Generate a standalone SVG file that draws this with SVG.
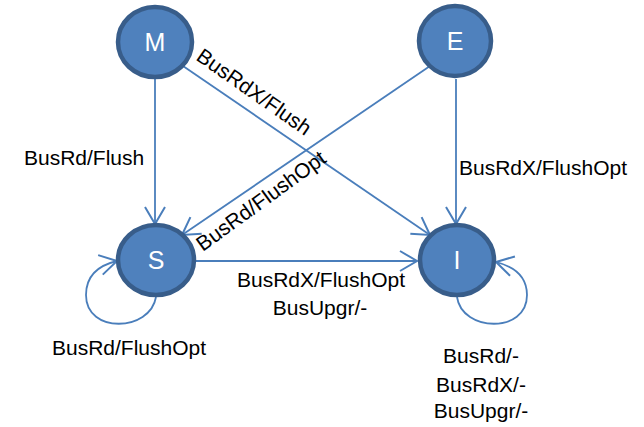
<svg xmlns="http://www.w3.org/2000/svg" width="644" height="427" viewBox="0 0 644 427">
  <style>
    .state circle, .state ellipse { fill: #4F81BD; stroke: #385D8A; stroke-width: 4.5; }
    .state text { font-family: "Liberation Sans", Arial, sans-serif; font-size: 25px; fill: #FFFFFF; text-anchor: middle; }
    .edge { fill: none; stroke: #4A7EBB; stroke-width: 1.8; marker-end: url(#arrow); }
    .lbl { font-family: "Liberation Sans", Arial, sans-serif; font-size: 21px; fill: #000000; }
    .mid { text-anchor: middle; }
  </style>
  <defs>
    <marker id="arrow" markerUnits="userSpaceOnUse" viewBox="-20 -13 22 26" refX="0" refY="0" markerWidth="22" markerHeight="26" orient="auto" overflow="visible">
      <path d="M-17,-10 L0,0 L-17,10" fill="none" stroke="#4A7EBB" stroke-width="2"/>
    </marker>
  </defs>

  <rect width="644" height="427" fill="#FFFFFF"/>

  <!-- transitions -->
  <g id="connectors">
    <path class="edge" d="M155,79 L155,224"/>
    <path class="edge" d="M183,66 L430,235"/>
    <path class="edge" d="M430,66 L182,235"/>
    <path class="edge" d="M456,79 L456,224"/>
    <path class="edge" d="M196,261 L417,261"/>
    <path class="edge" d="M156,297 C150,332 86,334 86,295 C86,275 100,265 117,261"/>
    <path class="edge" d="M457,297 C462,332 527,334 527,295 C527,275 512,266 496,262"/>
  </g>

  <!-- edge labels -->
  <g id="labels">
    <text class="lbl" x="24" y="165">BusRd/Flush</text>
    <text class="lbl" x="459" y="175">BusRdX/FlushOpt</text>
    <text class="lbl mid" x="321" y="287">BusRdX/FlushOpt</text>
    <text class="lbl mid" x="320" y="315">BusUpgr/-</text>
    <text class="lbl mid" x="129" y="355">BusRd/FlushOpt</text>
    <text class="lbl mid" x="481" y="363">BusRd/-</text>
    <text class="lbl mid" x="481" y="392">BusRdX/-</text>
    <text class="lbl mid" x="481" y="418">BusUpgr/-</text>
    <text class="lbl mid" transform="translate(254,92) rotate(35)" y="7">BusRdX/Flush</text>
    <text class="lbl mid" transform="translate(261,201) rotate(-36)" y="7">BusRd/FlushOpt</text>
  </g>

  <!-- states -->
  <g id="node-M" class="state">
    <ellipse cx="155" cy="42" rx="37" ry="35"/>
    <text x="155" y="51">M</text>
  </g>
  <g id="node-E" class="state">
    <ellipse cx="455" cy="41" rx="36" ry="35"/>
    <text x="455" y="50">E</text>
  </g>
  <g id="node-S" class="state">
    <ellipse cx="156" cy="260" rx="38" ry="35"/>
    <text x="156" y="269">S</text>
  </g>
  <g id="node-I" class="state">
    <ellipse cx="457" cy="260" rx="37" ry="35"/>
    <text x="457" y="269">I</text>
  </g>
</svg>
